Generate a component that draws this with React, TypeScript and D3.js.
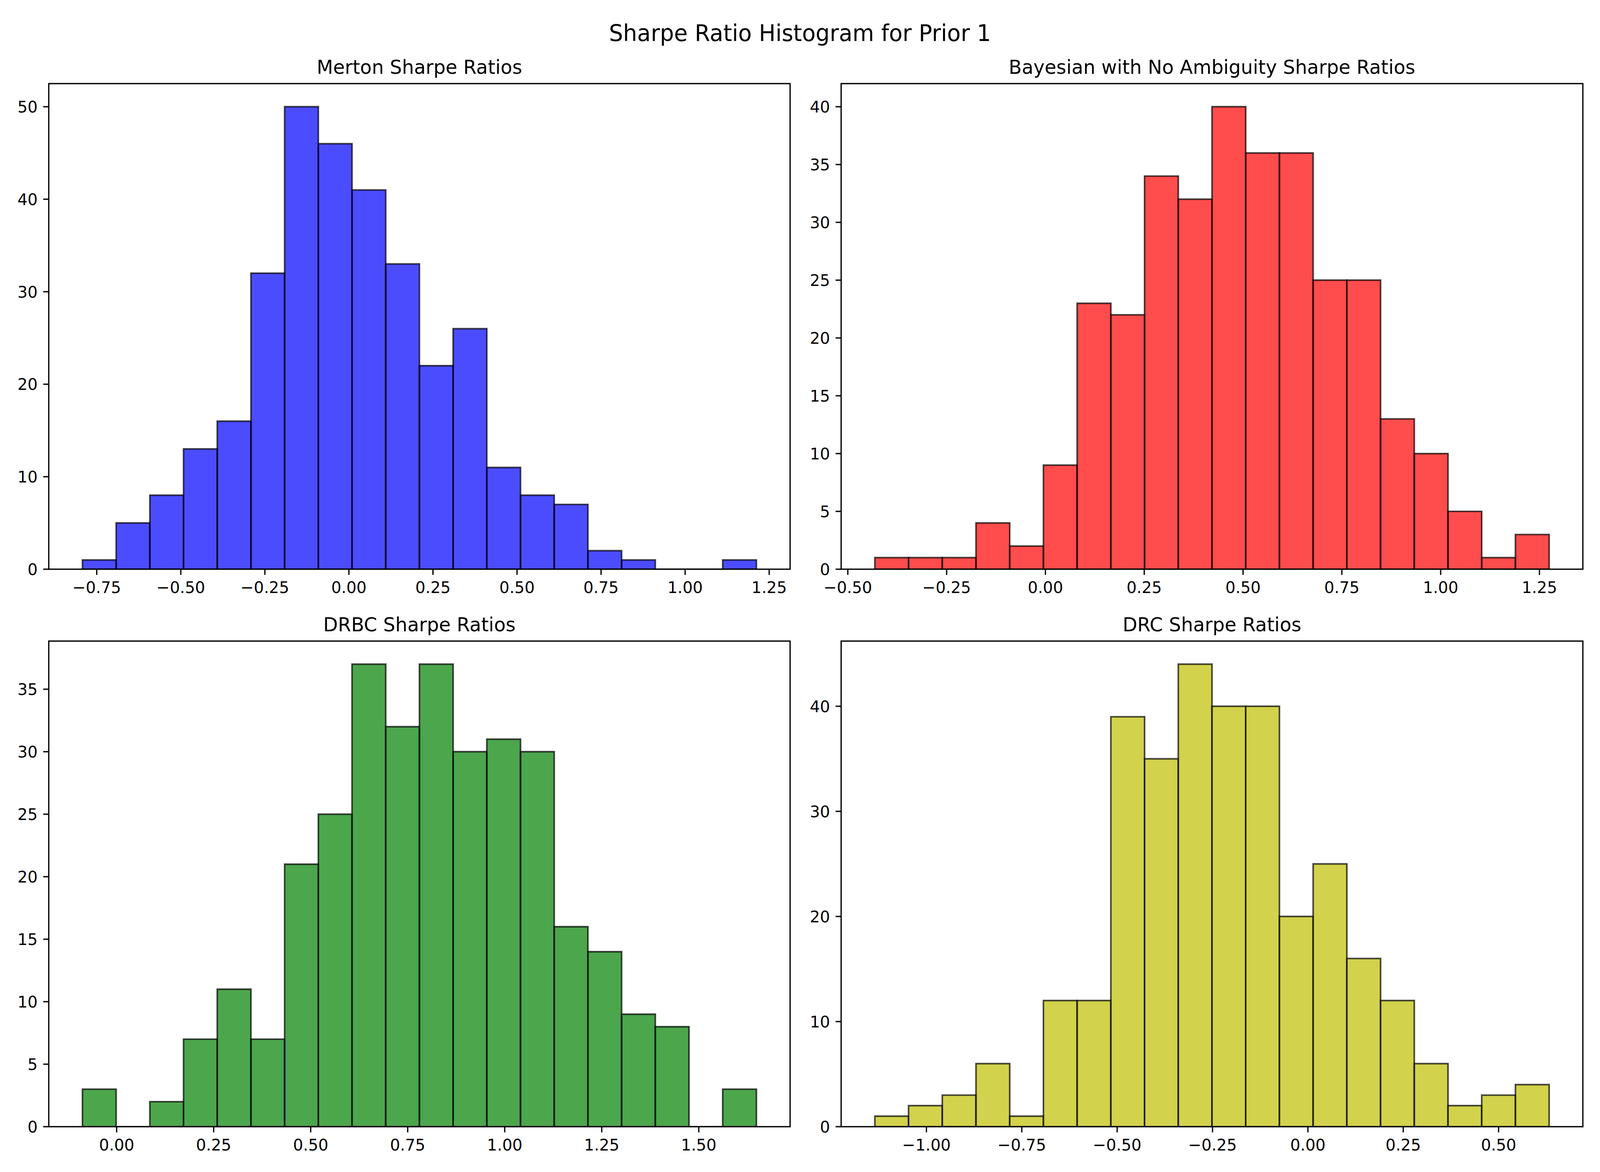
import * as d3 from "d3";

// counts per bin (20 equal-width bins)
const mertonCounts = [1, 5, 8, 13, 16, 32, 50, 46, 41, 33, 22, 26, 11, 8, 7, 2, 1, 0, 0, 1];
const bayesCounts = [1, 1, 1, 4, 2, 9, 23, 22, 34, 32, 40, 36, 36, 25, 25, 13, 10, 5, 1, 3];
const drbcCounts = [3, 0, 2, 7, 11, 7, 21, 25, 37, 32, 37, 30, 31, 30, 16, 14, 9, 8, 0, 3];
const drcCounts = [1, 2, 3, 6, 1, 12, 12, 39, 35, 44, 40, 40, 20, 25, 16, 12, 6, 2, 3, 4];

// min / max of each sample (outer bin edges)
const mertonRange: [number, number] = [-0.7925, 1.212];
const bayesRange: [number, number] = [-0.4316, 1.2745];
const drbcRange: [number, number] = [-0.0881, 1.6485];
const drcRange: [number, number] = [-1.1352, 0.6325];

const mertonXTicks = [-0.75, -0.5, -0.25, 0, 0.25, 0.5, 0.75, 1.0, 1.25];
const bayesXTicks = [-0.5, -0.25, 0, 0.25, 0.5, 0.75, 1.0, 1.25];
const drbcXTicks = [0, 0.25, 0.5, 0.75, 1.0, 1.25, 1.5];
const drcXTicks = [-1.0, -0.75, -0.5, -0.25, 0, 0.25, 0.5];

const mertonYTicks = [0, 10, 20, 30, 40, 50];
const bayesYTicks = [0, 5, 10, 15, 20, 25, 30, 35, 40];
const drbcYTicks = [0, 5, 10, 15, 20, 25, 30, 35];
const drcYTicks = [0, 10, 20, 30, 40];

const titles = [
  "Merton Sharpe Ratios",
  "Bayesian with No Ambiguity Sharpe Ratios",
  "DRBC Sharpe Ratios",
  "DRC Sharpe Ratios",
];
const colors = ["#0000ff", "#ff0000", "#008000", "#bfbf00"];

const W = 4200;
const H = 3000;
const FONT = "DejaVu Sans";
const tickFont = 41.67;
const tickLen = 14.58;
const tickPad = 14.58;

const boxes = [
  { x0: 128, x1: 2074, y0: 214, y1: 1457 },
  { x0: 2208, x1: 4155, y0: 214, y1: 1457 },
  { x0: 128, x1: 2074, y0: 1641, y1: 2884 },
  { x0: 2208, x1: 4155, y0: 1641, y1: 2884 },
];

const panels = [
  { counts: mertonCounts, range: mertonRange, xTicks: mertonXTicks, yTicks: mertonYTicks },
  { counts: bayesCounts, range: bayesRange, xTicks: bayesXTicks, yTicks: bayesYTicks },
  { counts: drbcCounts, range: drbcRange, xTicks: drbcXTicks, yTicks: drbcYTicks },
  { counts: drcCounts, range: drcRange, xTicks: drcXTicks, yTicks: drcYTicks },
];

const fmtX = (v: number) => d3.format(".2f")(v).replace("-", "\u2212");

function Panel({ i }: { i: number }) {
  const { counts, range, xTicks, yTicks } = panels[i];
  const box = boxes[i];
  const [lo, hi] = range;
  const span = hi - lo;
  const x = d3
    .scaleLinear()
    .domain([lo - span * 0.05, hi + span * 0.05])
    .range([box.x0, box.x1]);
  const y = d3
    .scaleLinear()
    .domain([0, (d3.max(counts) ?? 1) * 1.05])
    .range([box.y1, box.y0]);
  const binW = span / counts.length;
  const clipId = `clip-${i}`;

  return (
    <g>
      <defs>
        <clipPath id={clipId}>
          <rect x={box.x0} y={box.y0} width={box.x1 - box.x0} height={box.y1 - box.y0} />
        </clipPath>
      </defs>
      <g clipPath={`url(#${clipId})`}>
        {counts.map((c, k) => {
          const a = x(lo + k * binW);
          const b = x(lo + (k + 1) * binW);
          const top = y(c);
          const base = y(0);
          return (
            <path
              key={k}
              d={`M${a},${base}V${top}H${b}V${base}Z`}
              fill={colors[i]}
              fillOpacity={0.7}
              stroke="#000"
              strokeOpacity={0.7}
              strokeWidth={4.17}
              strokeLinejoin="miter"
            />
          );
        })}
      </g>
      <rect
        x={box.x0}
        y={box.y0}
        width={box.x1 - box.x0}
        height={box.y1 - box.y0}
        fill="none"
        stroke="#000"
        strokeWidth={3.33}
      />
      {xTicks.map((t) => (
        <g key={`x${t}`}>
          <line x1={x(t)} x2={x(t)} y1={box.y1} y2={box.y1 + tickLen} stroke="#000" strokeWidth={3.33} />
          <text
            x={x(t)}
            y={box.y1 + tickLen + tickPad + 31.5}
            textAnchor="middle"
            fontSize={tickFont}
            fontFamily={FONT}
          >
            {fmtX(t)}
          </text>
        </g>
      ))}
      {yTicks.map((t) => (
        <g key={`y${t}`}>
          <line x1={box.x0 - tickLen} x2={box.x0} y1={y(t)} y2={y(t)} stroke="#000" strokeWidth={3.33} />
          <text
            x={box.x0 - tickLen - tickPad}
            y={y(t) + 15}
            textAnchor="end"
            fontSize={tickFont}
            fontFamily={FONT}
          >
            {t}
          </text>
        </g>
      ))}
      <text
        x={(box.x0 + box.x1) / 2}
        y={box.y0 - 25}
        textAnchor="middle"
        fontSize={50}
        fontFamily={FONT}
      >
        {titles[i]}
      </text>
    </g>
  );
}

export default function App() {
  // fill the visible viewport exactly, whatever its size
  return (
    <div style={{ position: "fixed", left: 0, top: 0, width: "100%", height: "100%", background: "#fff" }}>
      <svg
        width="100%"
        height="100%"
        viewBox={`0 0 ${W} ${H}`}
        preserveAspectRatio="none"
        style={{ display: "block" }}
      >
        <rect width={W} height={H} fill="#fff" />
        <text x={W / 2} y={105} textAnchor="middle" fontSize={58.33} fontFamily={FONT}>
          Sharpe Ratio Histogram for Prior 1
        </text>
        {panels.map((_, i) => (
          <Panel key={i} i={i} />
        ))}
      </svg>
    </div>
  );
}
